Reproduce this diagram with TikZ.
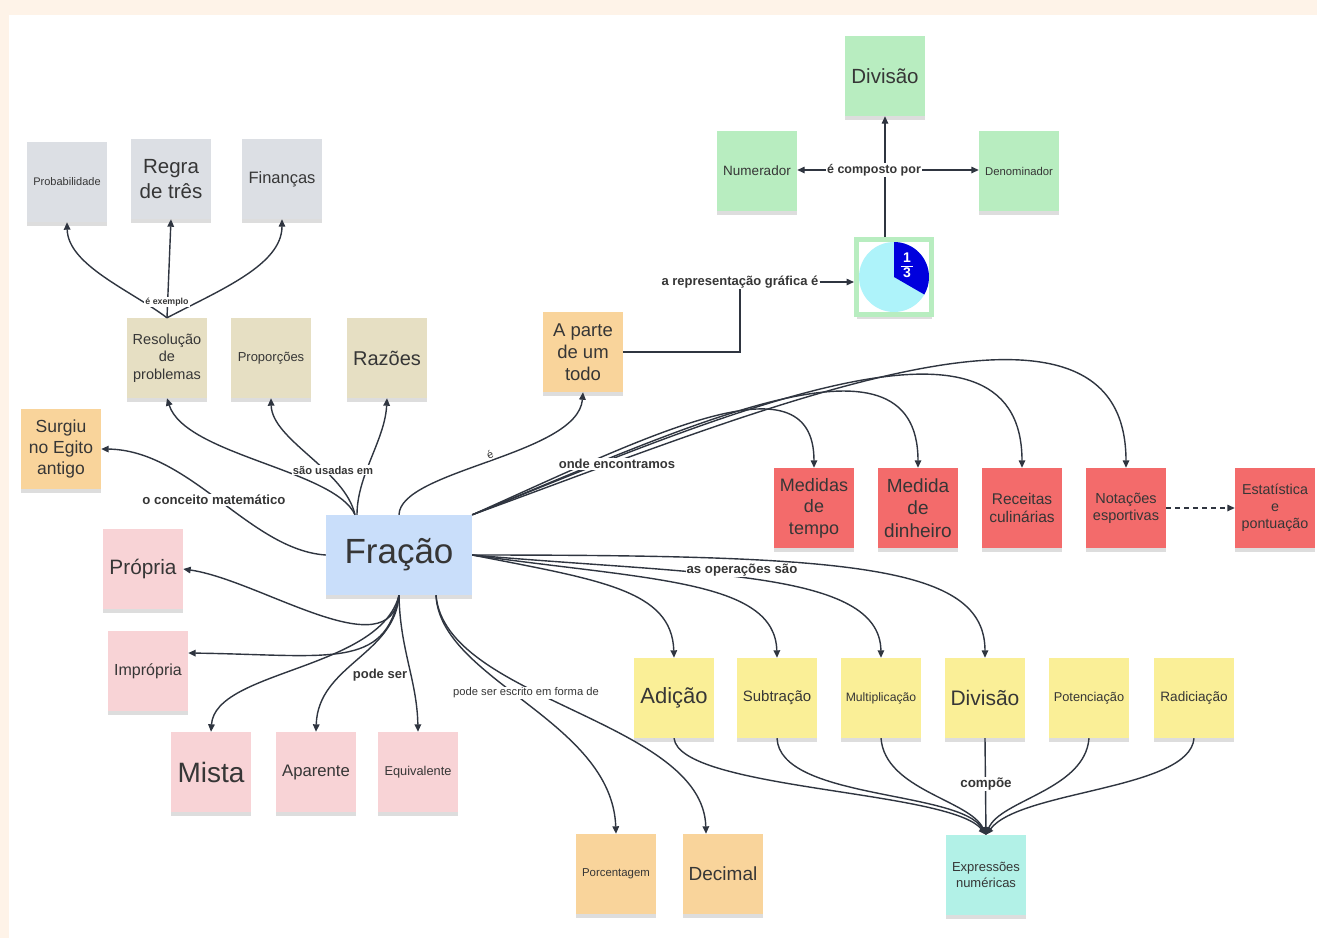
\documentclass[tikz,border=0pt]{standalone}
\usepackage{fontspec}
\setmainfont{Liberation Sans}
\usetikzlibrary{arrows.meta,shadows}
\definecolor{cream}{HTML}{FEF3E8}
\definecolor{lncol}{HTML}{2F3540}
\definecolor{txt}{HTML}{363636}
\definecolor{cgray}{HTML}{DCDFE4}
\definecolor{ctan}{HTML}{E6DFC3}
\definecolor{corange}{HTML}{F9D49B}
\definecolor{cblue}{HTML}{C9DEFA}
\definecolor{cgreen}{HTML}{B8EDC0}
\definecolor{cred}{HTML}{F36B6B}
\definecolor{cpink}{HTML}{F8D3D6}
\definecolor{cyellow}{HTML}{FAEF97}
\definecolor{cteal}{HTML}{B2F1E7}
\definecolor{piecyan}{HTML}{AEF3FA}
\definecolor{pieblue}{HTML}{0000DD}
\newcommand\setfs[1]{\fontsize{#1}{#1}\selectfont\baselineskip=1.2\baselineskip}
\tikzset{
  note/.style={minimum width=80pt, minimum height=80pt, inner sep=1pt, align=center, text=txt,
    drop shadow={shadow xshift=0pt, shadow yshift=-4pt, opacity=0.22, fill=black!60}},
  conn/.style={draw=lncol, line width=1.4pt, -{Triangle[length=7.5pt,width=6.5pt]}},
  plainln/.style={draw=lncol, line width=1.4pt},
  lbl/.style={fill=white, inner sep=1pt, text=txt},
}
\begin{document}
\begin{tikzpicture}[x=1pt, y=-1pt]
\useasboundingbox (0,0) rectangle (1317,938);
\fill[cream] (0,0) rectangle (1317,938);
\fill[white] (9,15) rectangle (1317,938);

% ---- nodes
\node[note, fill=cgray, font=\setfs{11}] (prob) at (67,182) {Probabilidade};
\node[note, fill=cgray, font=\setfs{20.5}] (regra) at (171,179) {Regra\\de três};
\node[note, fill=cgray, font=\setfs{16.5}] (fin) at (282,179) {Finanças};

\node[note, fill=ctan, font=\setfs{14.5}] (resol) at (167,358) {Resolução\\de\\problemas};
\node[note, fill=ctan, font=\setfs{13}] (propo) at (271,358) {Proporções};
\node[note, fill=ctan, font=\setfs{20}] (raz) at (387,358) {Razões};

\node[note, fill=corange, font=\setfs{17.5}] (surg) at (61,449) {Surgiu\\no Egito\\antigo};
\node[note, fill=corange, font=\setfs{18.5}] (parte) at (583,352) {A parte\\de um\\todo};

\node[note, fill=cblue, minimum width=146pt, font=\setfs{35}] (frac) at (399,555) {Fração};

\node[note, fill=cgreen, font=\setfs{20.5}] (divt) at (885,76) {Divisão};
\node[note, fill=cgreen, font=\setfs{13.5}] (numer) at (757,171) {Numerador};
\node[note, fill=cgreen, font=\setfs{11.3}] (denom) at (1019,171) {Denominador};

\node[minimum size=75pt, draw=cgreen, line width=5pt, fill=white,
  drop shadow={shadow xshift=0pt, shadow yshift=-4pt, opacity=0.22, fill=black!60}] (pie) at (894,277) {};
\begin{scope}[shift={(pie.center)}, x=1pt, y=1pt]
  \fill[piecyan] (0,0) circle (35);
  \fill[pieblue] (0,0) -- (90:35) arc[start angle=90, end angle=-30, radius=35] -- cycle;
\end{scope}
\node[text=white, font=\bfseries\setfs{14}, inner sep=0pt] (third) at (907,267)
  {\setlength\arrayrulewidth{1pt}\renewcommand\arraystretch{0.95}\begin{tabular}{@{\,}c@{\,}}1\\\hline 3\end{tabular}};

\node[note, fill=cred, font=\setfs{18}] (medt) at (814,508) {Medidas\\de\\tempo};
\node[note, fill=cred, font=\setfs{19}] (medd) at (918,508) {Medida\\de\\dinheiro};
\node[note, fill=cred, font=\setfs{15.5}] (rece) at (1022,508) {Receitas\\culinárias};
\node[note, fill=cred, font=\setfs{14.5}] (notac) at (1126,508) {Notações\\esportivas};
\node[note, fill=cred, font=\setfs{14.3}] (estat) at (1275,508) {Estatística\\e\\pontuação};

\node[note, fill=cpink, font=\setfs{20.8}] (propr) at (143,569) {Própria};
\node[note, fill=cpink, font=\setfs{16}] (impr) at (148,671) {Imprópria};
\node[note, fill=cpink, font=\setfs{28}] (mista) at (211,772) {Mista};
\node[note, fill=cpink, font=\setfs{16.7}] (apar) at (316,772) {Aparente};
\node[note, fill=cpink, font=\setfs{12.8}] (equiv) at (418,772) {Equivalente};

\node[note, fill=cyellow, font=\setfs{22}] (adic) at (674,698) {Adição};
\node[note, fill=cyellow, font=\setfs{15}] (subt) at (777,698) {Subtração};
\node[note, fill=cyellow, font=\setfs{12.2}] (mult) at (881,698) {Multiplicação};
\node[note, fill=cyellow, font=\setfs{21}] (divb) at (985,698) {Divisão};
\node[note, fill=cyellow, font=\setfs{12.8}] (pot) at (1089,698) {Potenciação};
\node[note, fill=cyellow, font=\setfs{13.6}] (radi) at (1194,698) {Radiciação};

\node[note, fill=corange, font=\setfs{11.4}] (porc) at (616,874) {Porcentagem};
\node[note, fill=corange, font=\setfs{19}] (deci) at (723,874) {Decimal};
\node[note, fill=cteal, font=\setfs{13}] (expr) at (986,875) {Expressões\\numéricas};

% ---- connectors
% é exemplo
\draw[conn] (resol.north) .. controls (130,290) and (68,265) .. (prob.south);
\draw[conn] (resol.north) -- (regra.south);
\draw[conn] (resol.north) .. controls (220,290) and (282,265) .. (fin.south);

% são usadas em
\draw[conn] ([xshift=-44pt]frac.north) .. controls (335,470) and (185,455) .. (resol.south);
\draw[conn] ([xshift=-44pt]frac.north) .. controls (345,470) and (272,440) .. (propo.south);
\draw[conn] ([xshift=-42pt]frac.north) .. controls (357,475) and (385,440) .. (raz.south);

% o conceito matemático
\draw[conn] (frac.west) .. controls (250,550) and (190,450) .. (surg.east);

% é
\draw[conn] (frac.north) .. controls (400,470) and (578,455) .. (parte.south);

% a representação gráfica é
\node[lbl, font=\bfseries\setfs{13}] (lrep) at (740,282) {a representação gráfica é};
\draw[plainln] (parte.east) -| (lrep.south);
\draw[conn] (lrep.east) -- (lrep.east -| pie.west);

% é composto por
\draw[conn] (divt.south |- pie.north) -- (divt.south);
\node[lbl, font=\bfseries\setfs{12.5}] (lcomp) at (874,170) {é composto por};
\draw[conn] (lcomp.west) -- (lcomp.west -| numer.east);
\draw[conn] (lcomp.east) -- (lcomp.east -| denom.west);

% onde encontramos
\draw[conn] (frac.north east) .. controls (640,440) and (814,350) .. (medt.north);
\draw[conn] (frac.north east) .. controls (680,430) and (918,315) .. (medd.north);
\draw[conn] (frac.north east) .. controls (720,415) and (1022,285) .. (rece.north);
\draw[conn] (frac.north east) .. controls (760,410) and (1126,255) .. (notac.north);
\draw[conn, dash pattern=on 5pt off 4pt] (notac.east) -- (estat.west);

% as operações são
\draw[conn] (frac.east) .. controls (600,580) and (672,590) .. (adic.north);
\draw[conn] (frac.east) .. controls (650,580) and (775,580) .. (subt.north);
\draw[conn] (frac.east) .. controls (700,575) and (880,570) .. (mult.north);
\draw[conn] (frac.east) .. controls (850,555) and (985,565) .. (divb.north);

% pode ser
\draw[conn] (frac.south) .. controls (390,670) and (260,580) .. (propr.east);
\draw[conn] (frac.south) .. controls (385,670) and (330,655) .. ([yshift=18pt]impr.east);
\draw[conn] (frac.south) .. controls (380,670) and (215,670) .. (mista.north);
\draw[conn] (frac.south) .. controls (395,655) and (318,665) .. (apar.north);
\draw[conn] (frac.south) .. controls (400,650) and (417,680) .. (equiv.north);

% pode ser escrito em forma de
\draw[conn] ([xshift=37pt]frac.south) .. controls (440,680) and (612,720) .. (porc.north);
\draw[conn] ([xshift=37pt]frac.south) .. controls (445,700) and (703,720) .. ([xshift=-17pt]deci.north);

% compõe
\draw[conn] (adic.south) .. controls (680,790) and (950,790) .. (expr.north);
\draw[conn] (subt.south) .. controls (780,800) and (960,790) .. (expr.north);
\draw[conn] (mult.south) .. controls (885,790) and (970,800) .. (expr.north);
\draw[conn] (divb.south) -- (expr.north);
\draw[conn] (pot.south) .. controls (1085,790) and (1000,800) .. (expr.north);
\draw[conn] (radi.south) .. controls (1190,790) and (1020,790) .. (expr.north);

% ---- labels
\node[lbl, font=\bfseries\setfs{8.8}] (lex) at (167,302) {é exemplo};
\node[lbl, font=\bfseries\setfs{11.2}] (lusa) at (333,470) {são usadas em};
\node[lbl, font=\bfseries\setfs{13.2}] (lconc) at (214,500) {o conceito matemático};
\node[lbl, font=\setfs{11}, inner sep=0.5pt, rotate=25] (le) at (490,455) {é};
\node[lbl, font=\bfseries\setfs{13}] (londe) at (617,464) {onde encontramos};
\node[lbl, font=\bfseries\setfs{13.2}] (lops) at (742,570) {as operações são};
\node[lbl, font=\bfseries\setfs{13}] (lpode) at (380,675) {pode ser};
\node[lbl, font=\setfs{11.2}] (lesc) at (526,693) {pode ser escrito em forma de};
\node[lbl, font=\bfseries\setfs{13.4}] (lcomu) at (986,784) {compõe};
\end{tikzpicture}
\end{document}
